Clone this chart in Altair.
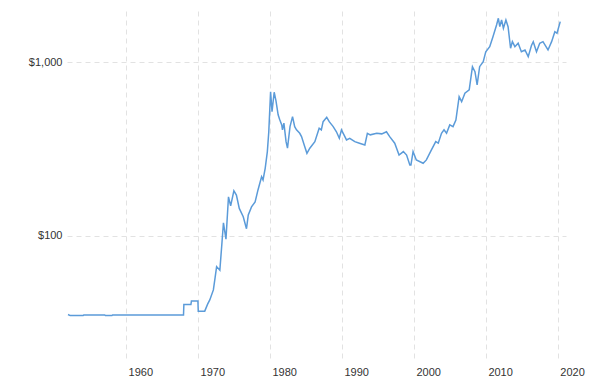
import altair as alt
import pandas as pd

years = [
    1951.9, 1952.2, 1954.0, 1954.1, 1957.0, 1957.1, 1958.0, 1958.1, 1967.95,
    1968.0, 1968.98, 1969.05, 1969.95, 1970.0, 1970.9,
    1971.3, 1971.6, 1972.1, 1972.35, 1972.55, 1973.0, 1973.25, 1973.5, 1973.85,
    1974.2, 1974.5, 1974.95, 1975.3, 1975.7, 1976.25, 1976.7, 1976.95, 1977.4,
    1977.9, 1978.3, 1978.8, 1979.0, 1979.3, 1979.6, 1979.8, 1980.05, 1980.25,
    1980.55, 1980.8, 1981.1, 1981.3, 1981.6, 1981.7, 1981.9, 1982.2, 1982.4,
    1982.75, 1983.1, 1983.4, 1983.65, 1984.1, 1984.35, 1984.8, 1985.1, 1985.5,
    1986.2, 1986.8, 1987.1, 1987.35, 1987.85, 1988.2, 1988.75, 1989.2, 1989.6,
    1989.9, 1990.25, 1990.6, 1991.05, 1991.75, 1992.4, 1993.15, 1993.5, 1993.9,
    1994.8, 1995.5, 1996.15, 1996.6, 1997.3, 1997.9, 1998.5, 1998.95, 1999.4,
    1999.55, 1999.85, 2000.3, 2001.25, 2001.7, 2002.4, 2003.0, 2003.35, 2003.8,
    2004.15, 2004.5, 2004.95, 2005.4, 2005.8, 2006.25, 2006.6, 2007.05, 2007.65,
    2008.1, 2008.45, 2008.75, 2009.1, 2009.6, 2009.95, 2010.5, 2010.95, 2011.45,
    2011.7, 2011.9, 2012.15, 2012.4, 2012.75, 2013.05, 2013.4, 2013.65, 2014.0,
    2014.45, 2014.9, 2015.4, 2015.85, 2016.3, 2016.55, 2017.0, 2017.45, 2017.9,
    2018.6, 2019.1, 2019.55, 2019.85, 2020.3,
]
prices = [
    35.3, 34.8, 34.8, 35.1, 35.1, 34.8, 34.8, 35.1, 35.1,
    40.3, 40.3, 42.2, 42.2, 36.9, 36.9,
    40.5, 42.8, 48.9, 58.0, 66.6, 63.5, 86.7, 119, 95.7,
    168, 149, 182, 172, 144, 129, 110, 132, 147,
    157, 184, 219, 210, 245, 306, 398, 677, 520,
    672, 600, 498, 470, 436, 408, 446, 349, 320,
    426, 486, 426, 408, 390, 373, 326, 299, 320,
    349, 417, 408, 455, 482, 455, 426, 398, 365,
    408, 382, 357, 365, 349, 342, 334, 390, 382,
    390, 387, 398, 373, 342, 292, 306, 292, 256,
    256, 306, 274, 262, 274, 313, 349, 342, 390,
    408, 390, 436, 426, 465, 634, 593, 663, 693,
    943, 883, 740, 943, 1008, 1150, 1230, 1403, 1640,
    1791, 1603, 1752, 1569, 1752, 1603, 1204, 1314, 1230,
    1287, 1150, 1177, 1078, 1250, 1314, 1150, 1287, 1314,
    1177, 1314, 1500, 1469, 1714,
]
x_ticks = [1960, 1970, 1980, 1990, 2000, 2010, 2020]
y_ticks = [100, 1000]

df = pd.DataFrame({"year": years, "price": prices})

font = "Liberation Sans"

chart = (
    alt.Chart(df)
    .mark_line(color="#5b9bd9", strokeWidth=1.5, clip=True)
    .encode(
        x=alt.X(
            "year:Q",
            scale=alt.Scale(domain=[1951.76, 2021.1], nice=False, zero=False),
            axis=alt.Axis(
                values=x_ticks, format="d", grid=True, gridDash=[5, 4],
                gridColor="#e2e2e2", domain=False, ticks=False,
                labelOffset=14, labelPadding=4, labelFont=font,
                labelFontSize=11, labelColor="#333333", title=None,
            ),
        ),
        y=alt.Y(
            "price:Q",
            scale=alt.Scale(type="log", domain=[18.8, 1973], nice=False),
            axis=alt.Axis(
                values=y_ticks, format="$,.0f", grid=True, gridDash=[5, 4],
                gridColor="#e2e2e2", domain=False, ticks=False,
                labelPadding=5, labelFont=font, labelFontSize=11,
                labelColor="#333333", title=None,
            ),
        ),
    )
    .properties(
        width=499, height=351, autosize="none",
        padding={"left": 67, "top": 11, "right": 35, "bottom": 17},
    )
    .configure_view(stroke=None)
)

chart.save("out.html", embed_options={"renderer": "svg", "actions": False})
